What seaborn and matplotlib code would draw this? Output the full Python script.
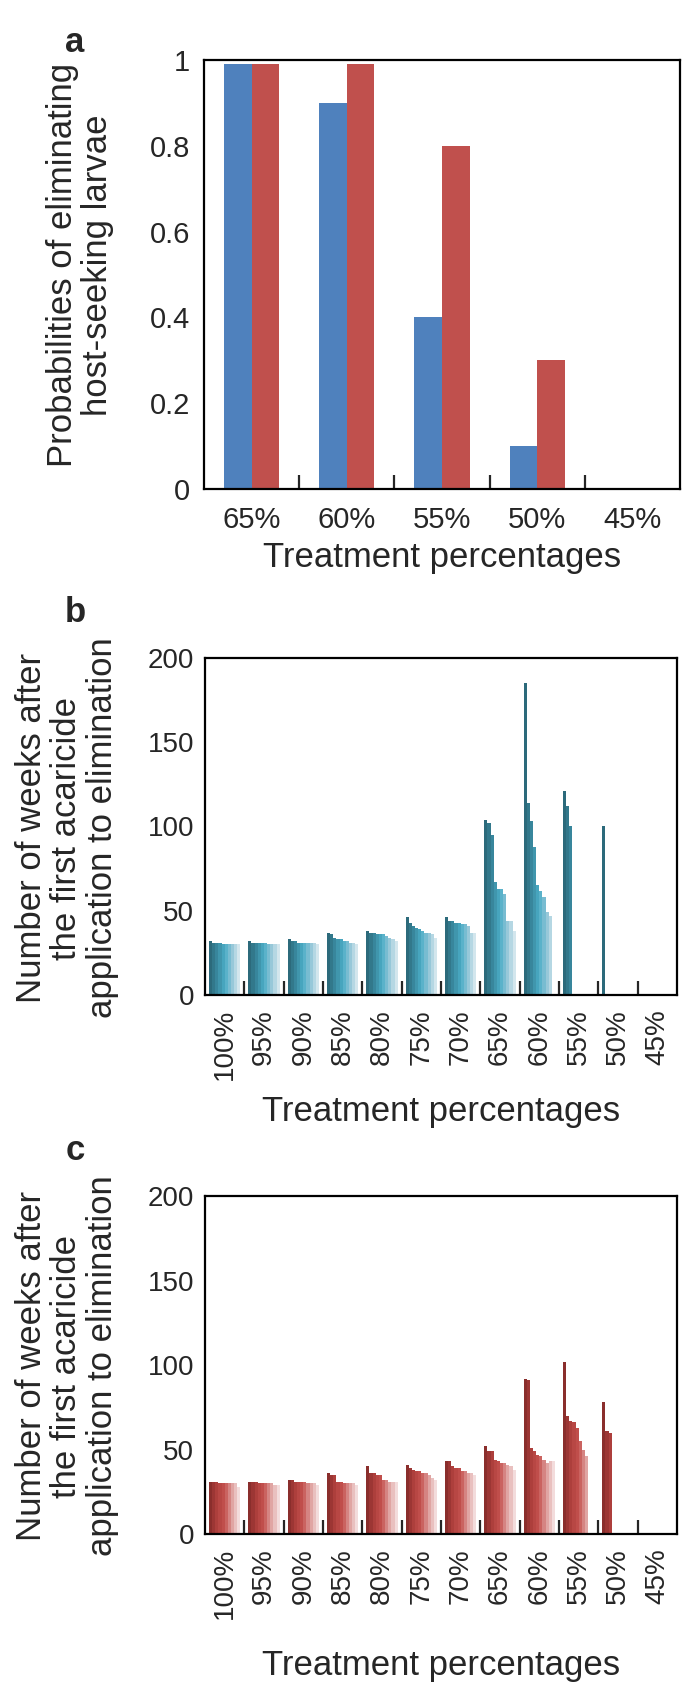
import numpy as np
import pandas as pd
import matplotlib
matplotlib.use("Agg")
import matplotlib.pyplot as plt
from matplotlib.ticker import FixedLocator
import seaborn as sns

sns.set_style("white")
plt.rcParams["font.family"] = ["Liberation Sans", "DejaVu Sans"]

nan = np.nan

# panel a: probabilities of eliminating host-seeking larvae
treat_a = ["65%", "60%", "55%", "50%", "45%"]
prob_blue = [0.99, 0.90, 0.40, 0.10, 0.0]
prob_red = [0.99, 0.99, 0.80, 0.30, 0.0]

# panels b and c: weeks to elimination, 10 scenarios per treatment level
treat_bc = ["100%", "95%", "90%", "85%", "80%", "75%", "70%", "65%", "60%", "55%", "50%", "45%"]

b_100 = [32, 31, 31, 31, 30, 30, 30, 30, 30, 30]
b_95 = [32, 31, 31, 31, 31, 31, 30, 30, 30, 30]
b_90 = [33, 32, 32, 31, 31, 31, 31, 31, 31, 30]
b_85 = [37, 36, 34, 33, 33, 32, 32, 31, 31, 30]
b_80 = [38, 37, 37, 36, 36, 36, 35, 34, 33, 32]
b_75 = [46, 43, 41, 40, 39, 38, 37, 37, 36, 34]
b_70 = [46, 44, 44, 43, 43, 42, 42, 41, 37, 37]
b_65 = [104, 102, 95, 67, 63, 63, 60, 44, 44, 38]
b_60 = [185, 114, 103, 88, 65, 62, 58, 49, 47, nan]
b_55 = [121, 112, 100, nan, nan, nan, nan, nan, nan, nan]
b_50 = [100, nan, nan, nan, nan, nan, nan, nan, nan, nan]
b_45 = [nan] * 10

c_100 = [31, 31, 31, 30, 30, 30, 30, 30, 30, 28]
c_95 = [31, 31, 31, 30, 30, 30, 30, 30, 29, 29]
c_90 = [32, 32, 31, 31, 31, 31, 30, 30, 30, 29]
c_85 = [36, 35, 35, 31, 31, 30, 30, 30, 30, 29]
c_80 = [40, 36, 36, 35, 35, 32, 32, 31, 31, 31]
c_75 = [41, 39, 38, 37, 37, 36, 36, 35, 33, 32]
c_70 = [43, 43, 40, 39, 39, 37, 37, 36, 36, 35]
c_65 = [52, 49, 49, 44, 43, 42, 42, 41, 40, 38]
c_60 = [92, 91, 51, 49, 47, 46, 44, 42, 43, 43]
c_55 = [102, 70, 67, 66, 63, 55, 50, 46, nan, nan]
c_50 = [78, 61, 60, nan, nan, nan, nan, nan, nan, nan]
c_45 = [nan] * 10

b_groups = [b_100, b_95, b_90, b_85, b_80, b_75, b_70, b_65, b_60, b_55, b_50, b_45]
c_groups = [c_100, c_95, c_90, c_85, c_80, c_75, c_70, c_65, c_60, c_55, c_50, c_45]

scen = [f"s{i}" for i in range(10)]


def long_df(groups):
    rows = []
    for t, vals in zip(treat_bc, groups):
        for s, v in zip(scen, vals):
            rows.append({"treatment": t, "scenario": s, "weeks": v})
    return pd.DataFrame(rows)


df_a = pd.DataFrame({
    "treatment": treat_a * 2,
    "series": ["blue"] * 5 + ["red"] * 5,
    "prob": prob_blue + prob_red,
})
df_b = long_df(b_groups)
df_c = long_df(c_groups)

teal = sns.blend_palette(["#2c6a7b", "#3a8aa0", "#4badc7", "#8fc4d6", "#d3e6ed"], 10)
reds = sns.blend_palette(["#8a2e2c", "#b2413e", "#c4524f", "#dd9d9b", "#f3dcdc"], 10)

W, H = 685, 1685
fig = plt.figure(figsize=(W / 100, H / 100), dpi=100)


def px_axes(left, top, right, bottom):
    return fig.add_axes([left / W, 1 - bottom / H, (right - left) / W, (bottom - top) / H])


TICK = 20
LAB = 25


def style_axes(ax, n):
    for sp in ax.spines.values():
        sp.set_visible(True)
        sp.set_color("black")
        sp.set_linewidth(1.6)
    ax.set_xlim(-0.5, n - 0.5)
    ax.xaxis.set_minor_locator(FixedLocator(np.arange(0.5, n - 1, 1.0)))
    ax.tick_params(axis="x", which="major", length=0, labelsize=TICK, pad=12)
    ax.tick_params(axis="x", which="minor", direction="in", length=10, width=1.6, bottom=True)
    ax.set_xlabel("")
    ax.set_ylabel("")


# ---- panel a
ax_a = px_axes(204, 60, 680, 489)
sns.barplot(data=df_a, x="treatment", y="prob", hue="series", order=treat_a,
            palette=["#4f81bd", "#c0504d"], width=0.58, errorbar=None,
            saturation=1, legend=False, linewidth=0, ax=ax_a)
style_axes(ax_a, 5)
ax_a.set_ylim(0, 1)
ax_a.set_yticks([0, 0.2, 0.4, 0.6, 0.8, 1.0])
ax_a.set_yticklabels(["0", "0.2", "0.4", "0.6", "0.8", "1"])
ax_a.tick_params(axis="y", length=0, labelsize=21, pad=10)
ax_a.tick_params(axis="x", labelsize=21)


# ---- panels b and c
def weeks_panel(ax, df, pal):
    sns.barplot(data=df, x="treatment", y="weeks", hue="scenario", order=treat_bc,
                hue_order=scen, palette=pal, width=0.8, errorbar=None,
                saturation=1, legend=False, linewidth=0, ax=ax)
    style_axes(ax, 12)
    ax.set_ylim(0, 200)
    ax.set_yticks([0, 50, 100, 150, 200])
    ax.tick_params(axis="y", direction="in", length=10, width=1.6, labelsize=TICK, pad=8)
    ax.tick_params(axis="x", which="major", labelrotation=90, pad=10)


ax_b = px_axes(205, 658, 677, 995)
weeks_panel(ax_b, df_b, teal)
ax_c = px_axes(205, 1196, 677, 1534)
weeks_panel(ax_c, df_c, reds)

# ---- labels
def ftext(x, y, s, **kw):
    fig.text(x / W, 1 - y / H, s, **kw)


ftext(75, 43, "a", fontsize=LAB, fontweight="bold", ha="center", va="center")
ftext(75, 613, "b", fontsize=LAB, fontweight="bold", ha="center", va="center")
ftext(75, 1150, "c", fontsize=LAB, fontweight="bold", ha="center", va="center")

ftext(80, 265, "Probabilities of eliminating\nhost-seeking larvae", fontsize=LAB,
      rotation=90, ha="center", va="center", multialignment="center", linespacing=1.1)
ylab = "Number of weeks after\nthe first acaricide\napplication to elimination"
ftext(67, 828, ylab, fontsize=LAB, rotation=90, ha="center", va="center",
      multialignment="center", linespacing=1.1)
ftext(67, 1366, ylab, fontsize=LAB, rotation=90, ha="center", va="center",
      multialignment="center", linespacing=1.1)

ftext(442, 557, "Treatment percentages", fontsize=LAB, ha="center", va="center")
ftext(441, 1112, "Treatment percentages", fontsize=LAB, ha="center", va="center")
ftext(441, 1665, "Treatment percentages", fontsize=LAB, ha="center", va="center")

fig.savefig("out.png", dpi=100, facecolor="white")
